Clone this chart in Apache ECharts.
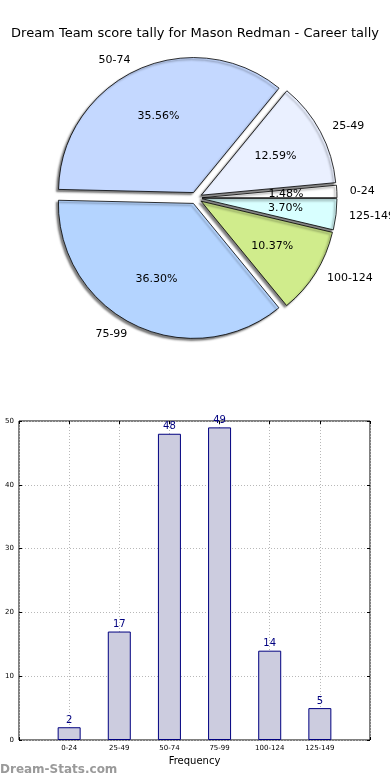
<!DOCTYPE html>
<html>
<head>
<meta charset="utf-8">
<script src="https://cdn.jsdelivr.net/npm/echarts@6/dist/echarts.min.js"></script>
<style>
html,body{margin:0;padding:0;background:#fff;}
#c{width:390px;height:780px;}
</style>
</head>
<body>
<div id="c"></div>
<script>
const titleText = 'Dream Team score tally for Mason Redman - Career tally';
const categories = ['0-24', '25-49', '50-74', '75-99', '100-124', '125-149'];
const counts = [2, 17, 48, 49, 14, 5];
const yTicks = [0, 10, 20, 30, 40, 50];
const xAxisName = 'Frequency';
const watermark = 'Dream-Stats.com';

const sliceColors = ['#ffffff', '#eaf0ff', '#c4d8ff', '#b4d4ff', '#d0ec8c', '#d8ffff'];
const FONT = 'DejaVu Sans';
const R = 135;

const pieData = categories.map((c, i) => ({
  name: c, value: counts[i], selected: true,
  itemStyle: { color: sliceColors[i] }
}));
const pieLabelData = categories.map((c, i) => ({
  name: c, value: counts[i], selected: true
}));
const total = counts.reduce((a, b) => a + b, 0);

const chart = echarts.init(document.getElementById('c'), null, { renderer: 'canvas' });
chart.setOption({
  animation: false,
  backgroundColor: '#ffffff',
  title: {
    text: titleText, left: 'center', top: 22,
    textStyle: { fontFamily: FONT, fontSize: 13, fontWeight: 'normal', color: '#000' }
  },
  graphic: [{
    type: 'text', left: 0, top: 764,
    style: { text: watermark, fill: '#9a9a9a', font: 'bold 12px "DejaVu Sans"' }
  }],
  grid: {
    left: 19, right: 20, top: 421, bottom: 40,
    show: true, borderColor: '#000', borderWidth: 1, backgroundColor: 'transparent'
  },
  xAxis: [{
    type: 'value', min: -1, max: 6, interval: 1, position: 'bottom',
    name: xAxisName, nameLocation: 'middle', nameGap: 16,
    nameTextStyle: { fontFamily: FONT, fontSize: 10, color: '#000' },
    axisLine: { show: false, onZero: false },
    axisTick: { show: true, inside: true, length: 3, lineStyle: { color: '#000' } },
    axisLabel: {
      fontFamily: FONT, fontSize: 7, color: '#000', margin: 5,
      formatter: v => categories[v] !== undefined ? categories[v] : ''
    },
    splitLine: { show: true, lineStyle: { color: '#b8b8b8', type: [1, 2], width: 1 } }
  }, {
    type: 'value', min: -1, max: 6, interval: 1, position: 'top',
    axisLine: { show: false, onZero: false },
    axisTick: { show: true, inside: true, length: 3, lineStyle: { color: '#000' } },
    axisLabel: { show: false }, splitLine: { show: false }
  }],
  yAxis: [{
    type: 'value', min: yTicks[0], max: yTicks[yTicks.length - 1], interval: 10, position: 'left',
    axisLine: { show: false, onZero: false },
    axisTick: { show: true, inside: true, length: 3, lineStyle: { color: '#000' } },
    axisLabel: { fontFamily: FONT, fontSize: 7, color: '#000', margin: 5 },
    splitLine: { show: true, lineStyle: { color: '#b8b8b8', type: [1, 2], width: 1 } }
  }, {
    type: 'value', min: yTicks[0], max: yTicks[yTicks.length - 1], interval: 10, position: 'right',
    axisLine: { show: false, onZero: false },
    axisTick: { show: true, inside: true, length: 3, lineStyle: { color: '#000' } },
    axisLabel: { show: false }, splitLine: { show: false }
  }],
  series: [{
    type: 'bar',
    xAxisIndex: 0, yAxisIndex: 0,
    barWidth: 23,
    data: counts.map((v, i) => [i, v]),
    itemStyle: { color: '#ccccdf', borderColor: '#000080', borderWidth: 1 },
    label: {
      show: true, position: 'top', distance: 2,
      fontFamily: FONT, fontSize: 10, color: '#000080',
      formatter: p => p.value[1]
    },
    z: 3
  }, {
    type: 'pie',
    center: [196, 198], radius: [0, R],
    startAngle: 0, clockwise: false,
    selectedMode: 'multiple', selectedOffset: 6,
    avoidLabelOverlap: false,
    data: pieData,
    itemStyle: {
      borderColor: '#000', borderWidth: 0.8,
      shadowBlur: 2, shadowOffsetX: -2, shadowOffsetY: 2, shadowColor: 'rgba(0,0,0,0.5)'
    },
    label: {
      show: true, position: 'outside', formatter: '{b}',
      fontFamily: FONT, fontSize: 11, color: '#000', distanceToLabelLine: 2
    },
    labelLine: { show: false, length: 11, length2: 0 },
    emphasis: { disabled: true }
  }, {
    type: 'pie',
    center: [196, 198], radius: [R * 0.2, R],
    startAngle: 0, clockwise: false,
    selectedMode: 'multiple', selectedOffset: 6,
    avoidLabelOverlap: false, silent: true,
    data: pieLabelData,
    itemStyle: { color: 'rgba(0,0,0,0)', borderWidth: 0 },
    label: {
      show: true, position: 'inside',
      formatter: p => (p.value / total * 100).toFixed(2) + '%',
      fontFamily: FONT, fontSize: 11, color: '#000'
    },
    labelLine: { show: false },
    emphasis: { disabled: true }
  }]
});
</script>
</body>
</html>
